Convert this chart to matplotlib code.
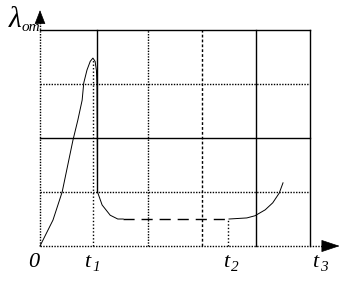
import matplotlib
matplotlib.use("Agg")
import matplotlib.pyplot as plt

# Curve (grid units: x in time cells, y in lambda cells)
rise_t = [0.0, 0.24, 0.41, 0.61, 0.70, 0.78, 0.81, 0.87, 0.93, 0.98, 1.02, 1.045, 1.055, 1.06, 1.065,
          1.15, 1.30, 1.44, 1.54]
rise_y = [0.0, 0.48, 1.0, 1.96, 2.33, 2.70, 3.02, 3.26, 3.42, 3.48, 3.42, 3.25, 2.98, 1.98, 1.0,
          0.76, 0.57, 0.50, 0.50]
plateau_t = [1.54, 3.5]
plateau_y = [0.50, 0.50]
end_t = [3.5, 3.83, 3.98, 4.17, 4.31, 4.43, 4.5]
end_y = [0.50, 0.52, 0.56, 0.67, 0.80, 0.98, 1.17]

t1 = 0.98
t2 = 3.48
tick_main = ['0', 't', 't', 't']
tick_sub = ['', '1', '2', '3']
tick_main_x = [-0.11, 0.88, 3.45, 5.09]
ylabel_main = 'λ'
ylabel_sub = 'om'

hlines = [(4, '-'), (3, ':'), (2, '-'), (1, ':')]
vlines = [(1.05, '-', 1, 4), (2, ':', 0, 4), (3, (0, (2, 1.5)), 0, 4), (4, '-', 0, 4), (5, '-', 0, 4)]

FONT = dict(family='Liberation Serif', style='italic', color='black')

fig = plt.figure(figsize=(3.45, 2.83), dpi=100)
ax = fig.add_axes([0, 0, 1, 1])
ax.set_xlim(-0.741, 5.648)
ax.set_ylim(-0.685, 4.556)
ax.axis('off')

for y, ls in hlines:
    ax.plot([0, 5], [y, y], color='black', lw=1.0, ls=ls if ls != ':' else (0, (1, 1)))
for x, ls, y0, y1 in vlines:
    ax.plot([x, x], [y0, y1], color='black', lw=1.0, ls=ls if ls != ':' else (0, (1, 1)))

# axes
ax.plot([0, 5.25], [0, 0], color='black', lw=1.0, ls=(0, (1, 1)))
ax.plot([0, 0], [0, 4.15], color='black', lw=1.0, ls=(0, (1, 1)))
ax.annotate('', xy=(5.6, 0), xytext=(5.22, 0),
            arrowprops=dict(arrowstyle='-|>,head_length=1.2,head_width=0.4', color='black', lw=0.5))
ax.annotate('', xy=(0, 4.42), xytext=(0, 4.14),
            arrowprops=dict(arrowstyle='-|>,head_length=0.9,head_width=0.35', color='black', lw=0.5))

# curve
ax.plot(rise_t, rise_y, color='black', lw=0.7)
ax.plot(plateau_t, plateau_y, color='black', lw=1.0, ls=(0, (8, 5)))
ax.plot(end_t, end_y, color='black', lw=0.7)

# drop lines
ax.plot([t1, t1], [0, 3.45], color='black', lw=1.0, ls=(0, (1, 1.5)))
ax.plot([t2, t2], [0, 0.5], color='black', lw=1.0, ls=(0, (1, 1.5)))

for x, m, s in zip(tick_main_x, tick_main, tick_sub):
    ax.text(x, -0.31, m, ha='center', va='center', fontsize=16, **FONT)
    if s:
        ax.text(x + 0.16, -0.39, s, ha='center', va='center', fontsize=11, **FONT)
ax.text(-0.46, 4.19, ylabel_main, ha='center', va='center', fontsize=21, **FONT)
ax.text(-0.17, 4.04, ylabel_sub, ha='center', va='center', fontsize=11, **FONT)

fig.savefig('out.png', dpi=100)
